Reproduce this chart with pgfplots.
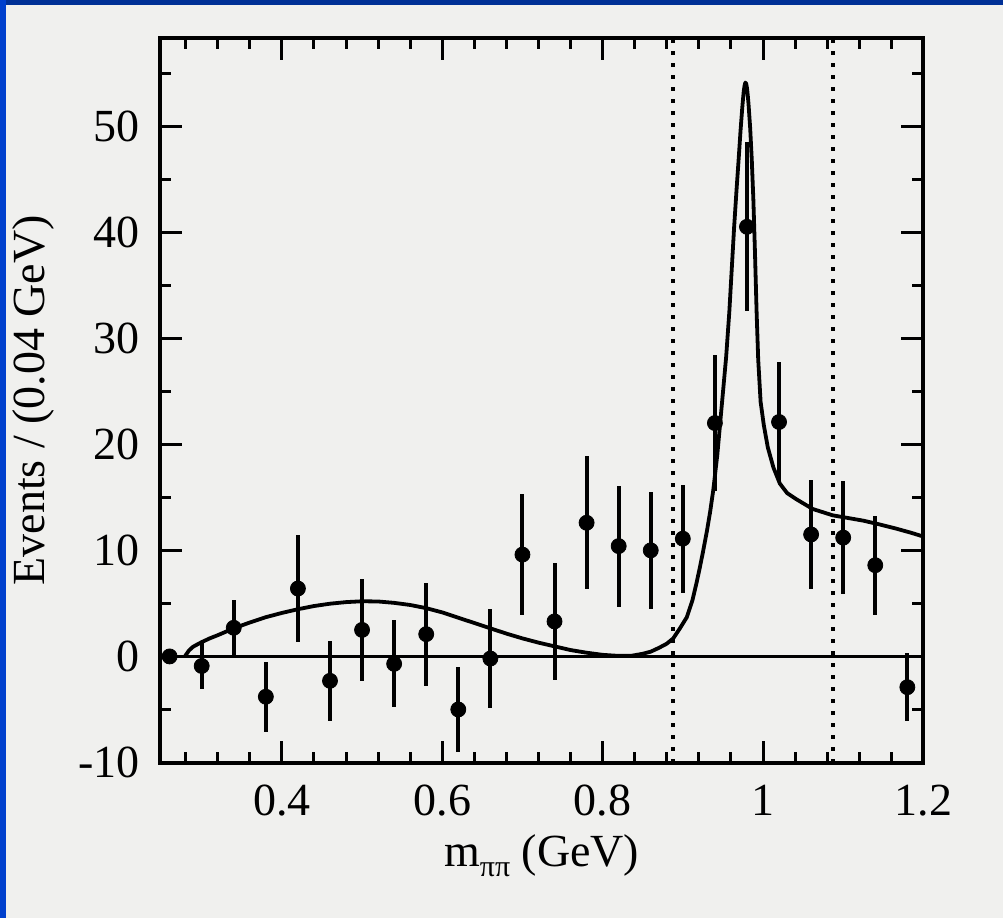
\documentclass[border=0pt]{standalone}
\usepackage{pgfplots}
\pgfplotsset{compat=1.18}
\usepackage{pgfplotstable}
\usepackage{fontspec}
\setmainfont{Liberation Serif}
\definecolor{slidenavy}{RGB}{0,48,150}
\definecolor{slideblue}{RGB}{0,64,205}
\definecolor{paper}{RGB}{240,240,238}

\pgfplotstableread{
x     y     e
0.26  0.0   0.0
0.30  -0.9  2.2
0.34  2.7   2.6
0.38  -3.8  3.3
0.42  6.4   5.0
0.46  -2.3  3.8
0.50  2.5   4.8
0.54  -0.7  4.1
0.58  2.1   4.85
0.62  -5.0  4.0
0.66  -0.2  4.65
0.70  9.6   5.7
0.74  3.3   5.5
0.78  12.6  6.25
0.82  10.4  5.7
0.86  10.0  5.5
0.90  11.1  5.1
0.94  22.0  6.4
0.98  40.5  7.95
1.02  22.1  5.7
1.06  11.5  5.1
1.10  11.2  5.35
1.14  8.6   4.65
1.18  -2.9  3.2
}\datatable

\pgfplotstableread{
x      y
0.279  0.0
0.284  0.55
0.289  0.9
0.295  1.15
0.300  1.35
0.310  1.7
0.320  2.0
0.340  2.65
0.360  3.2
0.380  3.7
0.400  4.1
0.420  4.45
0.440  4.75
0.460  4.97
0.480  5.12
0.500  5.2
0.520  5.18
0.540  5.05
0.560  4.85
0.580  4.55
0.600  4.15
0.620  3.65
0.640  3.15
0.660  2.65
0.680  2.15
0.700  1.7
0.720  1.3
0.740  0.95
0.760  0.6
0.780  0.35
0.800  0.15
0.820  0.05
0.835  0.05
0.850  0.25
0.860  0.45
0.870  0.8
0.880  1.2
0.888  1.7
0.896  2.6
0.905  3.7
0.912  5.3
0.917  6.9
0.921  8.3
0.925  9.8
0.930  11.8
0.934  13.6
0.938  15.7
0.943  19.0
0.948  23.2
0.954  28.2
0.958  32.5
0.961  36.5
0.964  40.5
0.967  44.0
0.970  47.3
0.972  49.6
0.974  51.6
0.975  52.5
0.976  53.3
0.977  53.8
0.978  54.1
0.979  54.0
0.980  53.6
0.981  52.9
0.982  52.0
0.984  49.8
0.986  46.8
0.988  43.0
0.990  38.0
0.992  32.5
0.994  28.0
0.997  24.0
1.001  21.8
1.006  19.7
1.013  17.8
1.021  16.3
1.030  15.4
1.042  14.8
1.062  13.9
1.087  13.3
1.125  12.8
1.145  12.45
1.166  12.05
1.185  11.65
1.200  11.3
}\fittable

\begin{document}
\begin{tikzpicture}
\useasboundingbox (0,0) rectangle (501.5pt,459pt);
\fill[slidenavy] (0,0) rectangle (501.5pt,459pt);
\fill[slideblue] (0,0) rectangle (3pt,459pt);
\fill[paper] (3pt,0) rectangle (501.5pt,456.5pt);
\begin{axis}[
  at={(80pt,77.75pt)},
  anchor=south west,
  scale only axis,
  width=381.7pt,
  height=362.25pt,
  xmin=0.248, xmax=1.2,
  ymin=-10, ymax=58.3,
  xtick={0.4,0.6,0.8,1,1.2},
  minor xtick={0.28,0.32,0.36,0.44,0.48,0.52,0.56,0.64,0.68,0.72,0.76,0.84,0.88,0.92,0.96,1.04,1.08,1.12,1.16},
  ytick={-10,0,10,20,30,40,50},
  minor ytick={-5,5,15,25,35,45,55},
  tick align=inside,
  major tick length=11pt,
  minor tick length=5.5pt,
  every tick/.style={black, line width=1.5pt},
  axis line style={line width=2pt},
  /pgf/number format/assume math mode=true,
  tick label style={font=\fontsize{23}{27}\selectfont, inner sep=0pt},
  xticklabel style={anchor=base, yshift=-26.25pt},
  yticklabel style={anchor=east, xshift=-10pt},
  xlabel={m\raisebox{-0.45ex}{\fontsize{15}{15}\selectfont ππ} (GeV)},
  ylabel={Events / (0.04 GeV)},
  xlabel style={at={(axis description cs:0.5,-0.1442)}, anchor=base, font=\fontsize{23}{27}\selectfont},
  ylabel style={at={(axis description cs:-0.1664,0.5)}, anchor=center, font=\fontsize{23}{27}\selectfont},
  clip=true,
]
\addplot[black, line width=1.3pt] coordinates {(0.248,0) (1.2,0)};
\addplot[black, line width=1.8pt, dash pattern=on 1.8pt off 4.2pt] coordinates {(0.888,-10) (0.888,58.3)};
\addplot[black, line width=1.8pt, dash pattern=on 1.8pt off 4.2pt] coordinates {(1.087,-10) (1.087,58.3)};
\addplot[black, line width=1.9pt, line join=round] table[x=x, y=y] {\fittable};
\addplot[black, only marks, mark=*, mark size=3.75pt,
  error bars/.cd, y dir=both, y explicit,
  error bar style={line width=2pt}, error mark=none]
  table[x=x, y=y, y error=e] {\datatable};
\end{axis}
\end{tikzpicture}
\end{document}
